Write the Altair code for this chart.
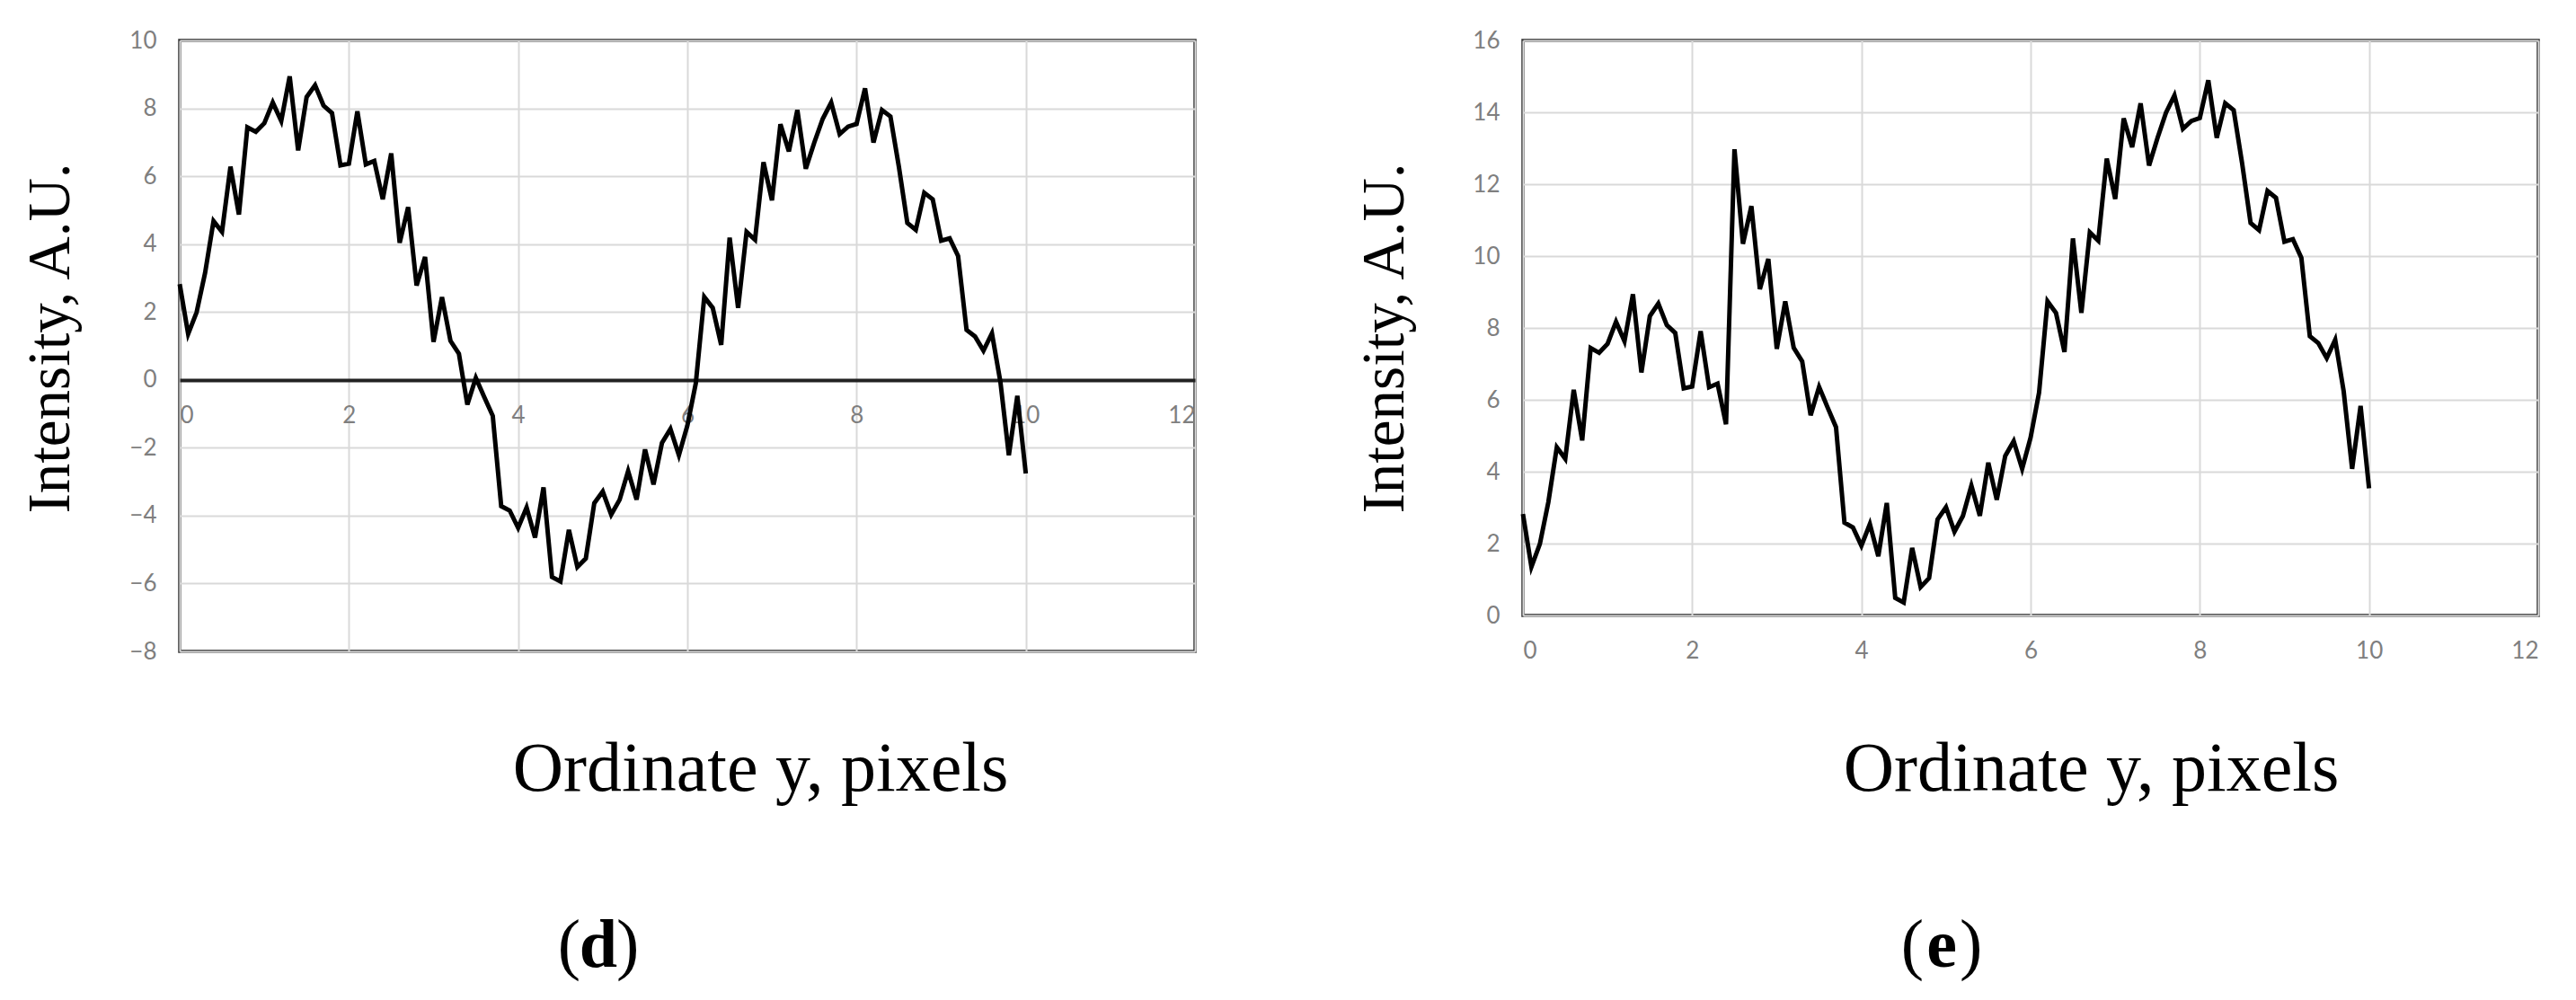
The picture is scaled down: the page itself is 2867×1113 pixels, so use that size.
import altair as alt
import pandas as pd

# Ordinate positions (pixels)
x_vals = [0.0, 0.1, 0.2, 0.3, 0.4, 0.5, 0.6, 0.7, 0.8, 0.9,
          1.0, 1.1, 1.2, 1.3, 1.4, 1.5, 1.6, 1.7, 1.8, 1.9,
          2.0, 2.1, 2.2, 2.3, 2.4, 2.5, 2.6, 2.7, 2.8, 2.9,
          3.0, 3.1, 3.2, 3.3, 3.4, 3.5, 3.6, 3.7, 3.8, 3.9,
          4.0, 4.1, 4.2, 4.3, 4.4, 4.5, 4.6, 4.7, 4.8, 4.9,
          5.0, 5.1, 5.2, 5.3, 5.4, 5.5, 5.6, 5.7, 5.8, 5.9,
          6.0, 6.1, 6.2, 6.3, 6.4, 6.5, 6.6, 6.7, 6.8, 6.9,
          7.0, 7.1, 7.2, 7.3, 7.4, 7.5, 7.6, 7.7, 7.8, 7.9,
          8.0, 8.1, 8.2, 8.3, 8.4, 8.5, 8.6, 8.7, 8.8, 8.9,
          9.0, 9.1, 9.2, 9.3, 9.4, 9.5, 9.6, 9.7, 9.8, 9.9,
          10.0]

# Panel (d) intensity
d_vals = [2.82, 1.35, 1.99, 3.15, 4.68, 4.36, 6.28, 4.87, 7.44, 7.31,
          7.56, 8.17, 7.63, 8.94, 6.76, 8.33, 8.68, 8.08, 7.86, 6.32,
          6.37, 7.91, 6.35, 6.45, 5.32, 6.67, 4.04, 5.09, 2.78, 3.62,
          1.12, 2.44, 1.15, 0.77, -0.73, 0.06, -0.51, -1.06, -3.72, -3.85,
          -4.36, -3.76, -4.65, -3.17, -5.81, -5.94, -4.42, -5.51, -5.26, -3.63,
          -3.29, -3.97, -3.53, -2.69, -3.53, -2.05, -3.08, -1.86, -1.45, -2.22,
          -1.35, -0.10, 2.44, 2.12, 1.03, 4.19, 2.12, 4.36, 4.13, 6.41,
          5.29, 7.53, 6.73, 7.95, 6.22, 6.99, 7.69, 8.17, 7.24, 7.46,
          7.54, 8.59, 6.99, 7.95, 7.76, 6.28, 4.62, 4.42, 5.51, 5.32,
          4.10, 4.17, 3.65, 1.47, 1.28, 0.86, 1.37, -0.06, -2.22, -0.47,
          -2.76]

# Panel (e) intensity
e_vals = [2.82, 1.35, 1.99, 3.15, 4.68, 4.36, 6.28, 4.87, 7.44, 7.31,
          7.56, 8.17, 7.63, 8.94, 6.76, 8.33, 8.68, 8.08, 7.86, 6.32,
          6.37, 7.91, 6.35, 6.45, 5.32, 12.97, 10.34, 11.39, 9.08, 9.92,
          7.42, 8.74, 7.45, 7.07, 5.57, 6.36, 5.79, 5.24, 2.58, 2.45,
          1.94, 2.54, 1.65, 3.13, 0.49, 0.36, 1.88, 0.79, 1.04, 2.67,
          3.01, 2.33, 2.77, 3.61, 2.77, 4.25, 3.22, 4.44, 4.85, 4.08,
          4.95, 6.20, 8.74, 8.42, 7.33, 10.49, 8.42, 10.66, 10.43, 12.71,
          11.59, 13.83, 13.03, 14.25, 12.52, 13.29, 13.99, 14.47, 13.54, 13.76,
          13.84, 14.89, 13.29, 14.25, 14.06, 12.58, 10.92, 10.72, 11.81, 11.62,
          10.40, 10.47, 9.95, 7.77, 7.58, 7.16, 7.67, 6.24, 4.08, 5.83,
          3.54]

x_ticks = [0, 2, 4, 6, 8, 10, 12]
d_ticks = [-8, -6, -4, -2, 0, 2, 4, 6, 8, 10]
e_ticks = [0, 2, 4, 6, 8, 10, 12, 14, 16]
x_title = "Ordinate y, pixels"
y_title = "Intensity, A.U."
panel_letters = ["d", "e"]

LABEL_FONT = "Lato"
TITLE_FONT = "Liberation Serif"


def make_panel(values, y_domain, y_ticks, height, letter, x_axis_offset,
               x_title_x, x_title_y, y_title_x):
    df = pd.DataFrame({"x": x_vals, "v": values})
    x_axis = alt.Axis(
        values=x_ticks, title=x_title, grid=True, ticks=False,
        domain=x_axis_offset != 0, domainColor="#222222", domainWidth=4,
        offset=x_axis_offset, labelPadding=26,
        titleX=x_title_x, titleY=x_title_y, titleAlign="center",
        titleBaseline="alphabetic", titleAnchor="middle", titleFontSize=78,
    )
    y_axis = alt.Axis(
        values=y_ticks, title=y_title, grid=True, ticks=False, domain=False,
        labelPadding=26, titleAngle=270, titleX=y_title_x, titleY=331,
        titleFontSize=67, titleAlign="center", titleBaseline="alphabetic",
    )
    line = alt.Chart(df).mark_line(color="#000000", strokeWidth=5).encode(
        x=alt.X("x:Q", scale=alt.Scale(domain=[0, 12], nice=False, zero=False), axis=x_axis),
        y=alt.Y("v:Q", scale=alt.Scale(domain=y_domain, nice=False, zero=False), axis=y_axis),
    )
    tag_base = alt.Chart(pd.DataFrame({"t": [letter]}))
    open_p = tag_base.mark_text(
        font=TITLE_FONT, fontSize=76, color="#000000", align="right", baseline="alphabetic",
        text="(",
    ).encode(x=alt.value(446), y=alt.value(1031))
    letter_m = tag_base.mark_text(
        font=TITLE_FONT, fontSize=76, fontWeight="bold", color="#000000",
        align="center", baseline="alphabetic",
    ).encode(text="t:N", x=alt.value(466), y=alt.value(1031))
    close_p = tag_base.mark_text(
        font=TITLE_FONT, fontSize=76, color="#000000", align="left", baseline="alphabetic",
        text=")",
    ).encode(x=alt.value(486), y=alt.value(1031))
    return alt.layer(line, open_p, letter_m, close_p).properties(width=1130, height=height)


left = make_panel(d_vals, [-8, 10], d_ticks, 680, panel_letters[0], -302, 646, 456, -124)
right = make_panel(e_vals, [0, 16], e_ticks, 640, panel_letters[1], 0, 632, 194, -134)

chart = alt.hconcat(left, right, spacing=173).properties(
    padding={"left": 12, "top": 22, "right": 0, "bottom": 0},
    background="white",
).configure_view(
    stroke="#333333", strokeWidth=3.5,
).configure_axis(
    labelFont=LABEL_FONT, labelFontSize=26, labelColor="#7f7f7f",
    titleFont=TITLE_FONT, titleFontSize=76, titleFontWeight="normal", titleColor="#000000",
    gridColor="#d9d9d9", gridWidth=2,
)

chart.save("out.html", embed_options={"renderer": "svg", "actions": False})
